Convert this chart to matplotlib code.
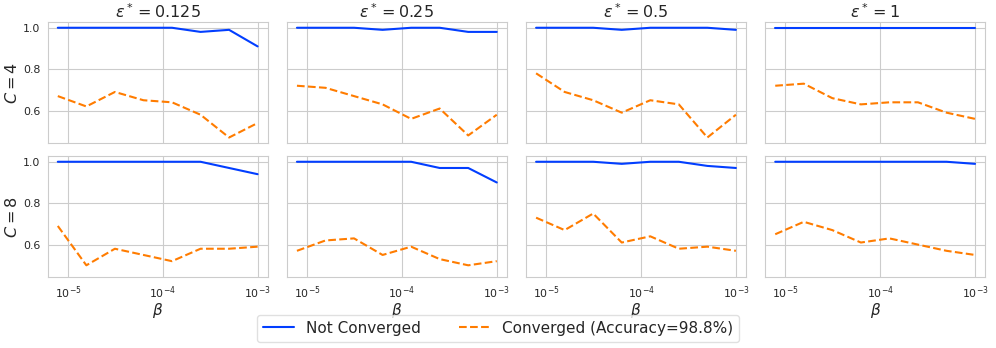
import numpy as np
import matplotlib
matplotlib.use("Agg")
import matplotlib.pyplot as plt
import seaborn as sns

# -----------------------
# Data
# -----------------------
betas = [7.8125e-6, 1.5625e-5, 3.125e-5, 6.25e-5, 1.25e-4, 2.5e-4, 5e-4, 1e-3]
eps_labels = ["0.125", "0.25", "0.5", "1"]
c_labels = ["4", "8"]

# not converged (one list per eps value)
not_conv_c4 = [
    [1.00, 1.00, 1.00, 1.00, 1.00, 0.98, 0.99, 0.91],
    [1.00, 1.00, 1.00, 0.99, 1.00, 1.00, 0.98, 0.98],
    [1.00, 1.00, 1.00, 0.99, 1.00, 1.00, 1.00, 0.99],
    [1.00, 1.00, 1.00, 1.00, 1.00, 1.00, 1.00, 1.00],
]
not_conv_c8 = [
    [1.00, 1.00, 1.00, 1.00, 1.00, 1.00, 0.97, 0.94],
    [1.00, 1.00, 1.00, 1.00, 1.00, 0.97, 0.97, 0.90],
    [1.00, 1.00, 1.00, 0.99, 1.00, 1.00, 0.98, 0.97],
    [1.00, 1.00, 1.00, 1.00, 1.00, 1.00, 1.00, 0.99],
]
# converged
conv_c4 = [
    [0.67, 0.62, 0.69, 0.65, 0.64, 0.58, 0.47, 0.54],
    [0.72, 0.71, 0.67, 0.63, 0.56, 0.61, 0.48, 0.58],
    [0.78, 0.69, 0.65, 0.59, 0.65, 0.63, 0.47, 0.58],
    [0.72, 0.73, 0.66, 0.63, 0.64, 0.64, 0.59, 0.56],
]
conv_c8 = [
    [0.69, 0.50, 0.58, 0.55, 0.52, 0.58, 0.58, 0.59],
    [0.57, 0.62, 0.63, 0.55, 0.59, 0.53, 0.50, 0.52],
    [0.73, 0.67, 0.75, 0.61, 0.64, 0.58, 0.59, 0.57],
    [0.65, 0.71, 0.67, 0.61, 0.63, 0.60, 0.57, 0.55],
]

not_conv = [not_conv_c4, not_conv_c8]
conv = [conv_c4, conv_c8]

# -----------------------
# Style
# -----------------------
sns.set_style("whitegrid")
plt.rcParams['font.family'] = ['DejaVu Sans']
pal = sns.color_palette("bright")
blue, orange = pal[0], pal[1]

fig, axs = plt.subplots(2, 4, figsize=(9.96, 3.48), dpi=100, sharex=True, sharey=True)
fig.subplots_adjust(left=0.048, right=0.989, top=0.936, bottom=0.204,
                    wspace=0.088, hspace=0.11)

for r in range(2):
    for c in range(4):
        ax = axs[r, c]
        l1, = ax.plot(betas, not_conv[r][c], color=blue, lw=1.5, label="Not Converged")
        l2, = ax.plot(betas, conv[r][c], color=orange, lw=1.5, ls="--",
                      label="Converged (Accuracy=98.8%)")
        ax.set_xscale("log")
        ax.set_yticks([0.6, 0.8, 1.0])
        ax.tick_params(labelsize=7.9, pad=2)
        ax.minorticks_off()
        if r == 0:
            ax.set_title(r"$\varepsilon^* = %s$" % eps_labels[c], fontsize=11.5, pad=3)
        else:
            ax.set_xlabel(r"$\beta$", fontsize=11, labelpad=0)
        if c == 0:
            ax.set_ylabel(r"$C = %s$" % c_labels[r], fontsize=11.5, labelpad=2)

fig.legend(handles=[l1, l2], loc="center", bbox_to_anchor=(0.5, 0.057),
           ncol=2, fontsize=11, frameon=True, columnspacing=2.5,
           edgecolor="0.85", fancybox=True)

plt.savefig("out.png", dpi=100)
